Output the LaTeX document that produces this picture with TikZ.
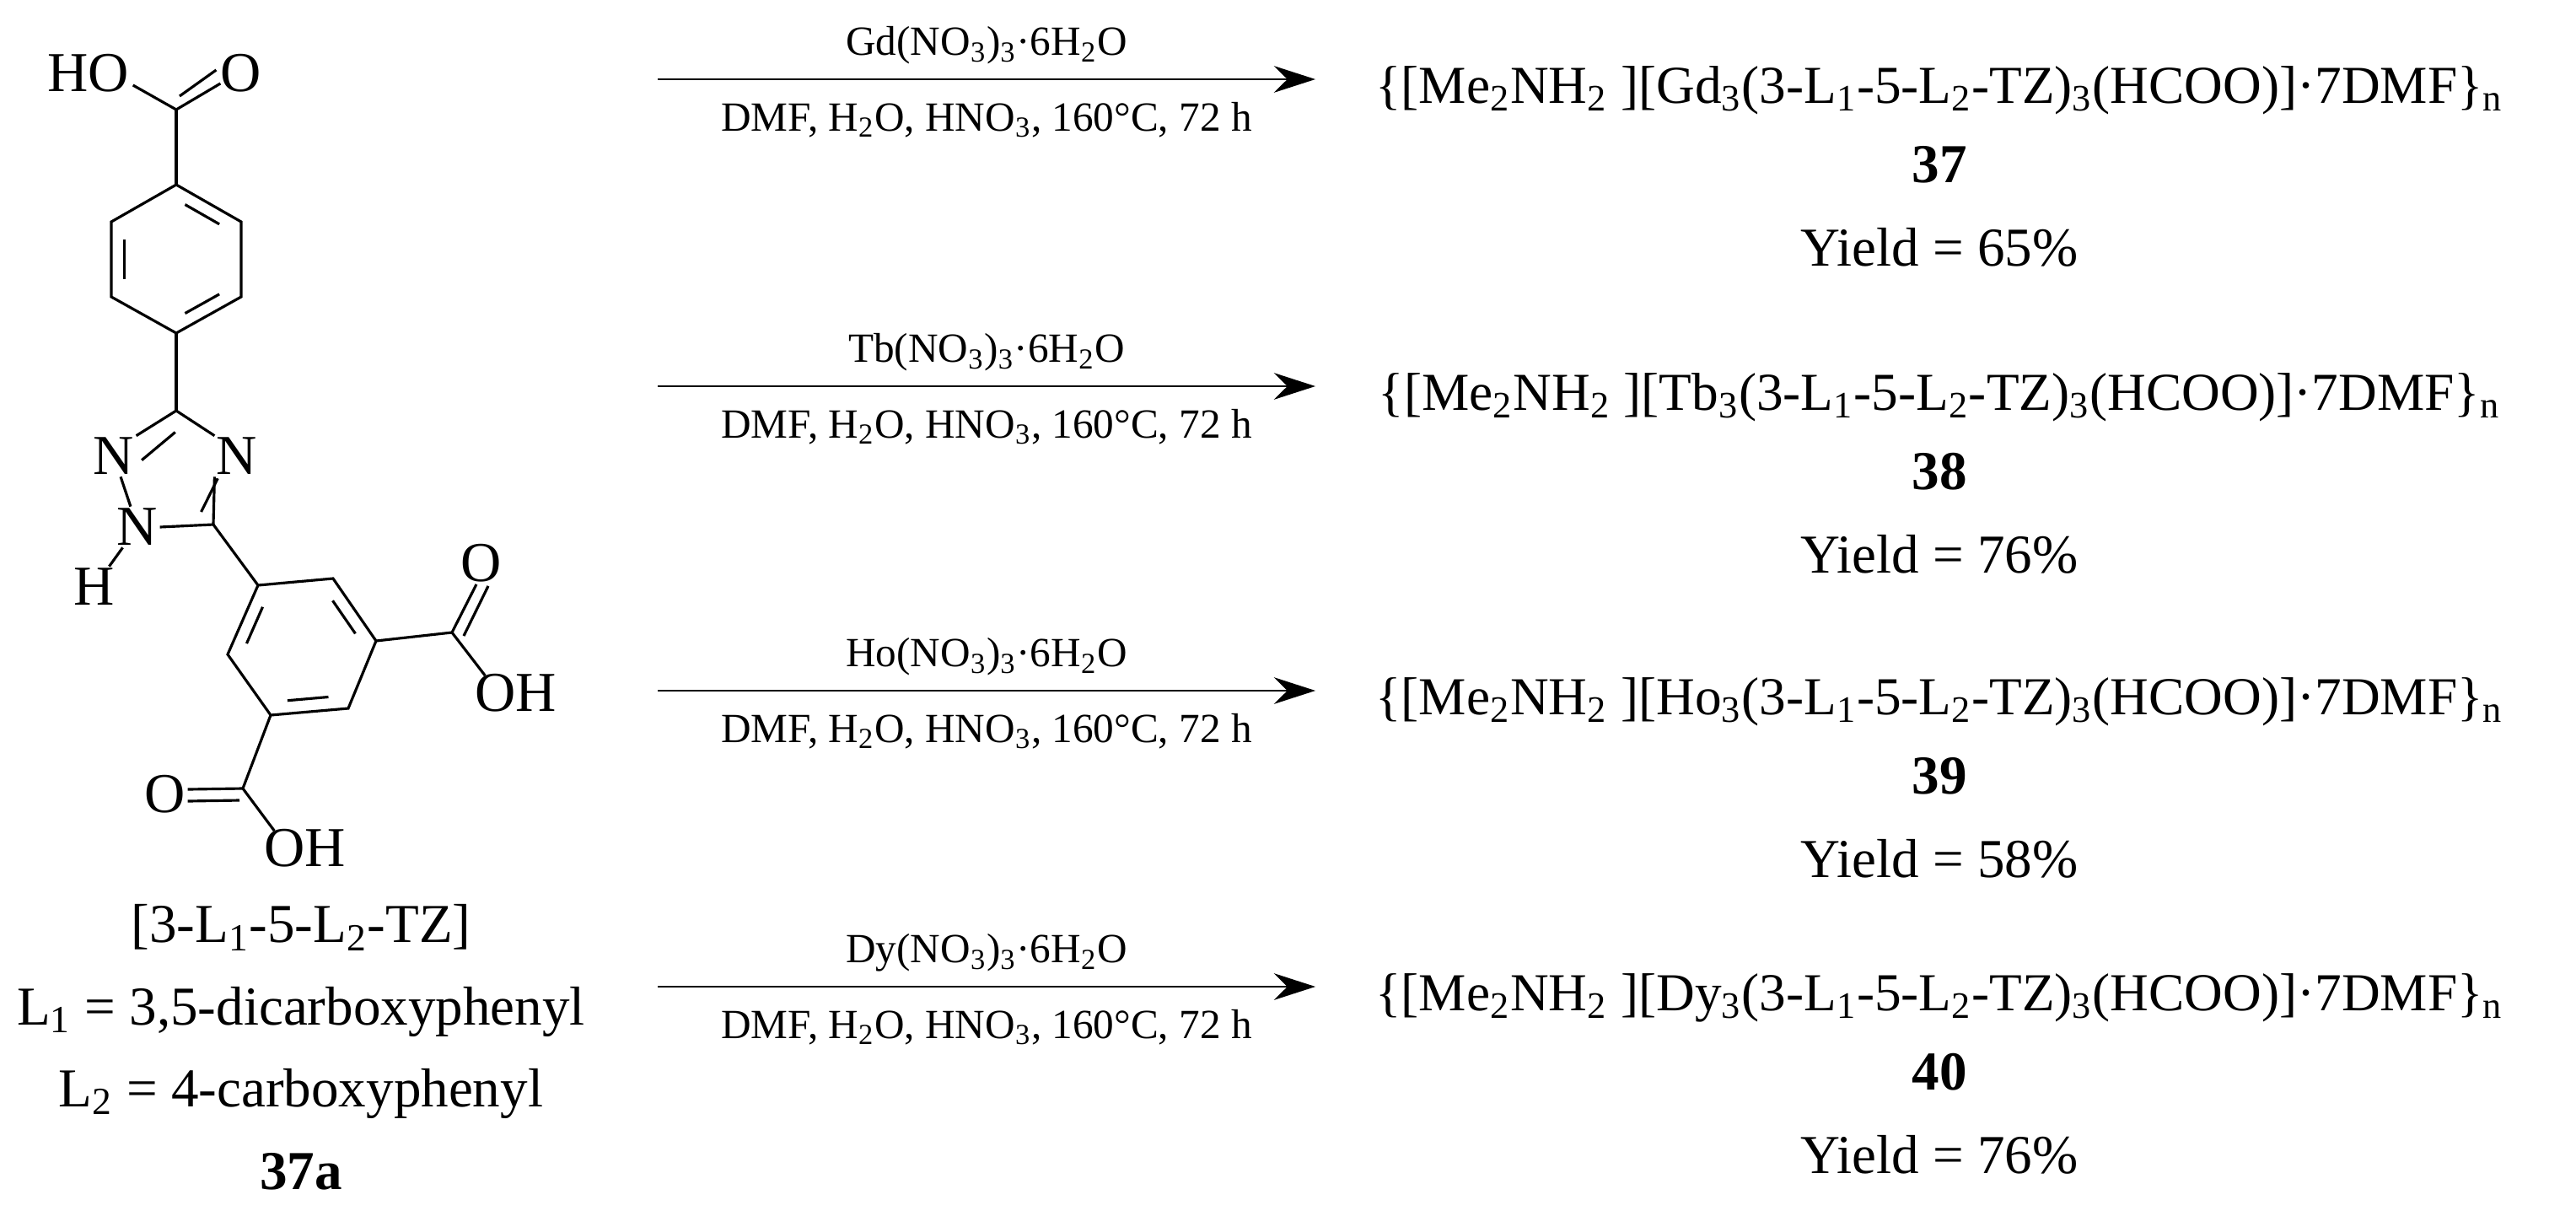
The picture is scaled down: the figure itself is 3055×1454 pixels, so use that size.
\documentclass[tikz,border=0pt]{standalone}
\usepackage{fontspec}
\setmainfont{Liberation Serif}
\usetikzlibrary{arrows.meta,calc}
\tikzset{
  bond/.style={line width=0.9pt},
  atom/.style={font=\fontsize{19}{19}\selectfont, inner sep=0.5pt},
  txt/.style={font=\fontsize{18.5}{22}\selectfont, inner sep=0pt},
  ptxt/.style={font=\fontsize{18}{22}\selectfont, inner sep=0pt},
  cond/.style={font=\fontsize{14}{16}\selectfont, inner sep=0pt},
  rxn/.style={line width=0.8pt, -{Stealth[length=14pt,width=9pt]}}
}
\newcommand{\inner}[3]{\draw[bond] ($($(#1)!0.17!(#2)$)!0.2!(#3)$) -- ($($(#1)!0.83!(#2)$)!0.2!(#3)$);}
\begin{document}
\begin{tikzpicture}[x=0.01cm,y=-0.01cm]
\useasboundingbox (0,0) rectangle (3055,1454);
% top carboxyl
\node[atom] (HO1) at (105,87) {HO};
\node[atom] (O1) at (286,87) {O};
\coordinate (C1) at (209,130);
\draw[bond] (C1) -- ($(HO1.east)+(2,14)$);
\draw[bond] (C1) -- ($(O1.west)+(2,12)$);
\draw[bond] ($(C1)+(4,-16)$) -- ($(O1.west)+(-3,-4)$);
% top ring
\coordinate (a1) at (209,219);
\coordinate (a2) at (286,263);
\coordinate (a3) at (286,352);
\coordinate (a4) at (209,395);
\coordinate (a5) at (132,352);
\coordinate (a6) at (132,263);
\coordinate (ca) at (209,307);
\draw[bond] (C1) -- (a1);
\draw[bond] (a1) -- (a2) -- (a3) -- (a4) -- (a5) -- (a6) -- cycle;
\inner{a1}{a2}{ca}\inner{a3}{a4}{ca}\inner{a5}{a6}{ca}
% triazole
\coordinate (t3) at (209,487);
\node[atom] (N2) at (135,541) {N};
\node[atom] (N4) at (281,541) {N};
\node[atom] (N1) at (163,625) {N};
\coordinate (t5) at (253,622);
\node[atom] (H) at (112,696) {H};
\coordinate (ct) at (205,572);
\draw[bond] (a4) -- (t3);
\draw[bond] (t3) -- (N2.north east);
\draw[bond] ($(t3)!0.3!(ct)$) -- ($(N2.east)!0.15!(ct)$);
\draw[bond] (t3) -- (N4.north west);
\draw[bond] (N4.south west) -- (t5);
\draw[bond] ($(N4.south)!0.3!(ct)$) -- ($(t5)!0.3!(ct)$);
\draw[bond] (N1.east) -- (t5);
\draw[bond] (N2) -- (N1);
\draw[bond] (N1) -- (H);
% lower ring
\coordinate (b1) at (306,694);
\coordinate (b2) at (395,686);
\coordinate (b3) at (446,760);
\coordinate (b4) at (413,840);
\coordinate (b5) at (321,848);
\coordinate (b6) at (270,776);
\coordinate (cb) at (358,767);
\draw[bond] (t5) -- (b1);
\draw[bond] (b1) -- (b2) -- (b3) -- (b4) -- (b5) -- (b6) -- cycle;
\inner{b1}{b6}{cb}\inner{b2}{b3}{cb}\inner{b4}{b5}{cb}
% right carboxyl
\coordinate (C2) at (536,750);
\node[atom] (O2) at (571,668) {O};
\node[atom] (OH2) at (612,822) {OH};
\draw[bond] (b3) -- (C2);
\draw[bond] (C2) -- ($(O2.south)+(-6,0)$);
\draw[bond] ($(C2)+(14,4)$) -- ($(O2.south)+(8,2)$);
\draw[bond] (C2) -- ($(OH2.north west)+(14,4)$);
% bottom carboxyl
\coordinate (C3) at (288,935);
\node[atom] (O3) at (196,942) {O};
\node[atom] (OH3) at (362,1006) {OH};
\draw[bond] (b5) -- (C3);
\draw[bond] (C3) -- ($(O3.east)+(0,-6)$);
\draw[bond] ($(C3)+(-4,14)$) -- ($(O3.east)+(0,8)$);
\draw[bond] (C3) -- ($(OH3.north west)+(14,4)$);
% ligand labels
\node[txt] (lab1) at (357,1100) {[3-L\textsubscript{1}-5-L\textsubscript{2}-TZ]};
\node[txt] (lab2) at (357,1200) {L\textsubscript{1} = 3,5-dicarboxyphenyl};
\node[txt] (lab3) at (357,1297) {L\textsubscript{2} = 4-carboxyphenyl};
\node[txt] (lab4) at (357,1389) {\textbf{37a}};
% reactions
\foreach \i/\y/\M/\num/\yl in {1/94/Gd/37/65,2/458/Tb/38/76,3/819/Ho/39/58,4/1170/Dy/40/76}{
  \coordinate (s\i) at (780,\y);
  \coordinate (e\i) at (1560,\y);
  \draw[rxn] (s\i) -- (e\i);
  \node[cond] (r\i) at (1170,\y-40) {\M(NO\textsubscript{3})\textsubscript{3}·6H\textsubscript{2}O};
  \node[cond] (c\i) at (1170,\y+48) {DMF, H\textsubscript{2}O, HNO\textsubscript{3}, 160°C, 72 h};
  \node[ptxt] (p\i) at (2300,\y+13) {\{[Me\textsubscript{2}NH\textsubscript{2} ][\M\textsubscript{3}(3-L\textsubscript{1}-5-L\textsubscript{2}-TZ)\textsubscript{3}(HCOO)]·7DMF\}\textsubscript{n}};
  \node[txt] (n\i) at (2300,\y+101) {\textbf{\num}};
  \node[txt] (y\i) at (2300,\y+199) {Yield = \yl\%};
}
\end{tikzpicture}
\end{document}
